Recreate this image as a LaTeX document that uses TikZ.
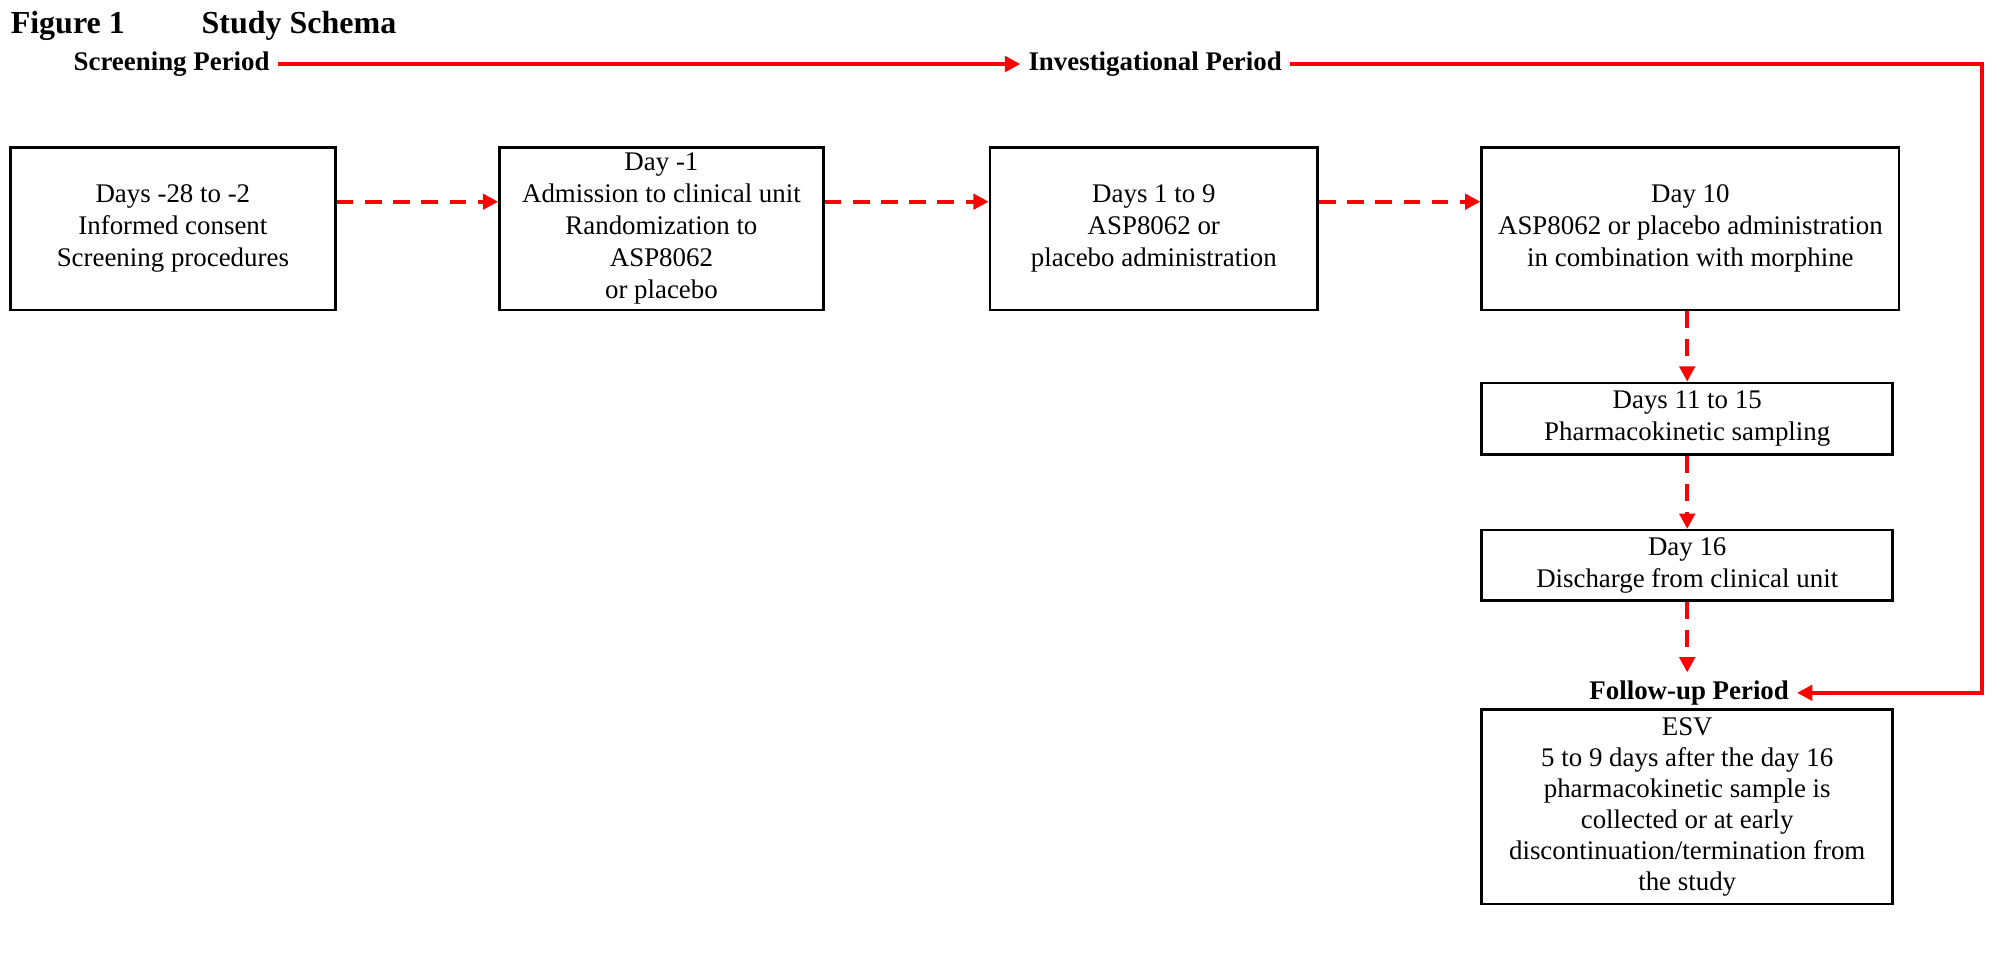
\documentclass[tikz,border=0pt]{standalone}
\usepackage{fontspec}
\setmainfont{Liberation Serif}
\usetikzlibrary{arrows.meta}
\definecolor{arrred}{RGB}{255,0,0}
\begin{document}
\begin{tikzpicture}[x=0.5pt,y=-0.5pt,
  box/.style={draw=black,line width=1pt,align=center,font=\fontsize{10.5}{12.5}\selectfont,inner sep=0pt},
  plabel/.style={font=\fontsize{10.5}{12.5}\selectfont\bfseries,inner sep=3pt},
  titletext/.style={anchor=west,font=\fontsize{12.5}{15}\selectfont\bfseries,inner sep=0pt},
  solidarrow/.style={draw=arrred,line width=1.6pt,line join=miter,-{Triangle[length=6pt,width=6pt]}},
  dasharrow/.style={draw=arrred,line width=1.7pt,dash pattern=on 6.5pt off 4.5pt,-{Triangle[length=6pt,width=6pt]}}]
\useasboundingbox (0,0) rectangle (1568,750);

\node[titletext] (fig) at (8,20) {Figure 1};
\node[titletext] (title) at (157,20) {Study Schema};

\node[plabel] (sp) at (134,50) {Screening Period};
\node[plabel] (ip) at (902,50) {Investigational Period};
\node[plabel] (fp) at (1319,541) {Follow-up Period};
\coordinate (corner) at (1548,50);

\node[box,minimum width=127pt,minimum height=63.5pt] (b1) at (135,178.5) {Days -28 to -2\\Informed consent\\Screening procedures};
\node[box,minimum width=126.5pt,minimum height=63.5pt] (b2) at (516.5,178.5) {Day -1\\Admission to clinical unit\\Randomization to\\ASP8062\\or placebo};
\node[box,minimum width=128pt,minimum height=63.5pt] (b3) at (901,178.5) {Days 1 to 9\\ASP8062 or\\placebo administration};
\node[box,minimum width=163pt,minimum height=63.5pt] (b4) at (1320,178.5) {Day 10\\ASP8062 or placebo administration\\in combination with morphine};
\node[box,minimum width=160.5pt,minimum height=28pt] (b5) at (1317.5,327) {Days 11 to 15\\Pharmacokinetic sampling};
\node[box,minimum width=160.5pt,minimum height=27.5pt] (b6) at (1317.5,441.5) {Day 16\\Discharge from clinical unit};
\node[box,minimum width=160.5pt,minimum height=76pt,font=\fontsize{10.5}{12.1}\selectfont] (b7) at (1317.5,630) {ESV\\5 to 9 days after the day 16\\pharmacokinetic sample is\\collected or at early\\discontinuation/termination from\\the study};

\draw[solidarrow] (sp) -- (ip);
\draw[solidarrow] (ip.east) -- (ip.east -| corner) |- (fp.east);

\draw[dasharrow] ([yshift=10.5pt]b1.east) -- ([yshift=10.5pt]b2.west);
\draw[dasharrow] ([yshift=10.5pt]b2.east) -- ([yshift=10.5pt]b3.west);
\draw[dasharrow] ([yshift=10.5pt]b3.east) -- ([yshift=10.5pt]b4.west);
\draw[dasharrow] (b5.north |- b4.south) -- (b5.north);
\draw[dasharrow] (b5.south) -- (b6.north);
\draw[dasharrow] (b6.south) -- (b6.south |- fp.north);
\end{tikzpicture}
\end{document}
